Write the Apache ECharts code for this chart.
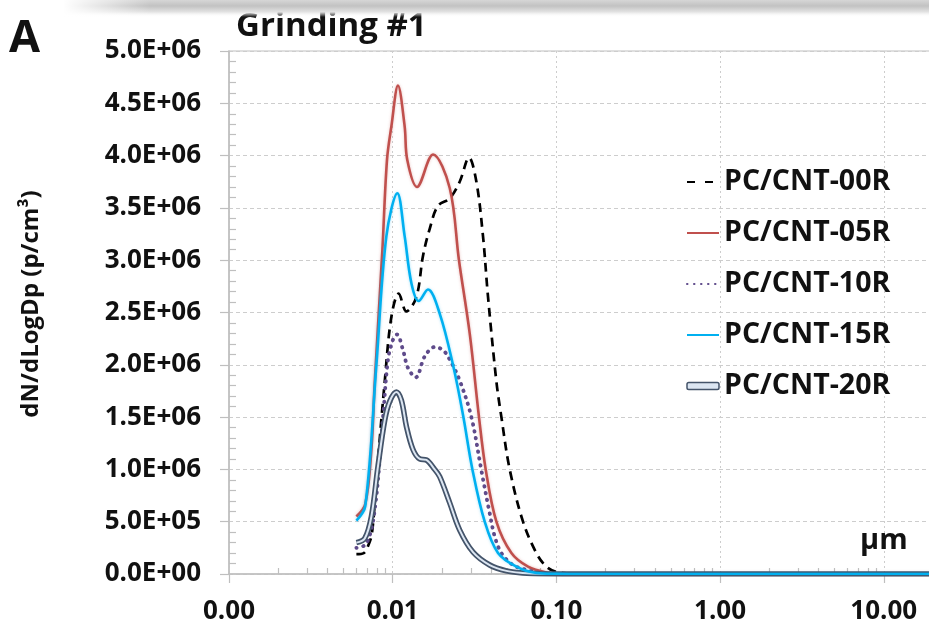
<!DOCTYPE html>
<html><head><meta charset="utf-8">
<script src="https://cdn.jsdelivr.net/npm/echarts@6/dist/echarts.min.js"></script>
<style>html,body{margin:0;padding:0;background:#fff}#c{width:929px;height:627px}</style>
</head><body><div id="c"></div>
<script>
// ---- data (particle diameter in µm, dN/dLogDp in p/cm3) ----
const seriesNames = ['PC/CNT-00R', 'PC/CNT-05R', 'PC/CNT-10R', 'PC/CNT-15R', 'PC/CNT-20R'];
const xTickLabels = ['0.00', '0.01', '0.10', '1.00', '10.00'];
const yTickLabels = ['0.0E+00', '5.0E+05', '1.0E+06', '1.5E+06', '2.0E+06', '2.5E+06',
                     '3.0E+06', '3.5E+06', '4.0E+06', '4.5E+06', '5.0E+06'];

const data00R = [
  [0.0060, 0.19e6], [0.00665, 0.20e6], [0.00704, 0.26e6], [0.00747, 0.39e6], [0.00799, 0.95e6],
  [0.00894, 1.84e6], [0.00982, 2.46e6], [0.01088, 2.68e6], [0.01213, 2.51e6], [0.01396, 2.65e6],
  [0.01531, 3.04e6], [0.01683, 3.30e6], [0.01891, 3.52e6], [0.0223, 3.59e6], [0.02566, 3.75e6],
  [0.02925, 3.98e6], [0.03245, 3.75e6], [0.03561, 3.23e6], [0.03822, 2.65e6], [0.0430, 1.84e6],
  [0.04613, 1.50e6], [0.05185, 1.00e6], [0.06252, 0.50e6], [0.07546, 0.20e6], [0.08688, 0.07e6],
  [0.1, 0.02e6], [0.12, 0.005e6], [0.15, 0], [0.2, 0], [0.3, 0], [0.5, 0], [1, 0], [2, 0],
  [5, 0], [10, 0], [20, 0]
];
const data05R = [
  [0.0060, 0.55e6], [0.0068, 0.67e6], [0.00741, 1.19e6], [0.00776, 1.82e6], [0.00865, 3.10e6],
  [0.00923, 3.96e6], [0.00982, 4.28e6], [0.01077, 4.67e6], [0.01183, 4.28e6], [0.01227, 3.96e6],
  [0.01407, 3.70e6], [0.01763, 4.01e6], [0.0223, 3.69e6], [0.0254, 3.00e6], [0.02954, 2.30e6],
  [0.03366, 1.50e6], [0.03699, 1.00e6], [0.0430, 0.50e6], [0.05311, 0.20e6], [0.06706, 0.07e6],
  [0.08688, 0.015e6], [0.11, 0.003e6], [0.15, 0], [0.2, 0], [0.3, 0], [0.5, 0], [1, 0], [2, 0],
  [5, 0], [10, 0], [20, 0]
];
const data10R = [
  [0.0060, 0.25e6], [0.00691, 0.29e6], [0.00776, 0.61e6], [0.00873, 1.50e6], [0.00936, 2.05e6],
  [0.01004, 2.24e6], [0.01062, 2.29e6], [0.01156, 2.14e6], [0.0124, 1.97e6], [0.01382, 1.88e6],
  [0.01569, 2.08e6], [0.01805, 2.17e6], [0.0203, 2.14e6], [0.02229, 2.05e6], [0.02566, 1.85e6],
  [0.03025, 1.50e6], [0.03482, 0.99e6], [0.03913, 0.58e6], [0.04198, 0.36e6], [0.04613, 0.20e6],
  [0.05431, 0.086e6], [0.06556, 0.04e6], [0.07907, 0.01e6], [0.1, 0.002e6], [0.15, 0], [0.2, 0],
  [0.3, 0], [0.5, 0], [1, 0], [2, 0], [5, 0], [10, 0], [20, 0]
];
const data15R = [
  [0.0060, 0.51e6], [0.0068, 0.65e6], [0.00795, 2.00e6], [0.00915, 3.23e6], [0.01068, 3.64e6],
  [0.01183, 3.23e6], [0.01301, 2.78e6], [0.01441, 2.61e6], [0.01642, 2.72e6], [0.01937, 2.49e6],
  [0.02335, 2.00e6], [0.02689, 1.52e6], [0.03068, 1.00e6], [0.03648, 0.50e6], [0.04398, 0.20e6],
  [0.05695, 0.07e6], [0.07546, 0.01e6], [0.1, 0.002e6], [0.15, 0], [0.2, 0], [0.3, 0], [0.5, 0],
  [1, 0], [2, 0], [5, 0], [10, 0], [20, 0]
];
const data20R = [
  [0.0060, 0.30e6], [0.00675, 0.34e6], [0.00741, 0.55e6], [0.00813, 1.03e6], [0.00894, 1.47e6],
  [0.00959, 1.65e6], [0.01053, 1.74e6], [0.0113, 1.66e6], [0.01213, 1.41e6], [0.0133, 1.19e6],
  [0.01462, 1.10e6], [0.01606, 1.09e6], [0.01805, 1.00e6], [0.01937, 0.93e6], [0.0223, 0.68e6],
  [0.02566, 0.42e6], [0.03094, 0.21e6], [0.03913, 0.086e6], [0.0495, 0.03e6], [0.06224, 0.01e6],
  [0.08, 0.002e6], [0.15, 0], [0.2, 0], [0.3, 0], [0.5, 0], [1, 0], [2, 0], [5, 0], [10, 0], [20, 0]
];

// ---- chart ----
const FONT = '"Open Sans", "Liberation Sans", sans-serif';
const chart = echarts.init(document.getElementById('c'), null, { renderer: 'canvas' });

const axisGrey = '#bfbfbf';
const gridGrey = '#cdcdcd';

const baseX = { type: 'log', logBase: 10, min: 0.001, max: 100, gridIndex: 0, position: 'bottom' };
const baseY = { type: 'value', min: 0, max: 5e6, interval: 5e5, gridIndex: 0, position: 'left' };

const option = {
  animation: false,
  backgroundColor: '#ffffff',
  title: {
    text: 'Grinding #1', left: 231, top: 5,
    textStyle: { fontFamily: FONT, fontSize: 33, fontWeight: 'bold', color: '#111' }
  },
  grid: { left: 229, top: 51, width: 818.5, height: 523, outerBoundsMode: 'none', containLabel: false,
          show: true, borderColor: axisGrey, borderWidth: 1.2, backgroundColor: 'transparent' },
  legend: {
    orient: 'vertical', left: 681, top: 162, itemWidth: 32, itemHeight: 7, itemGap: 21,
    padding: 5,
    itemStyle: { opacity: 0 },
    textStyle: { fontFamily: FONT, fontSize: 28.5, fontWeight: 'bold', color: '#111', lineHeight: 30 },
    data: [
      { name: seriesNames[0], lineStyle: { type: [8, 10] } },
      { name: seriesNames[1] },
      { name: seriesNames[2] },
      { name: seriesNames[3] },
      { name: seriesNames[4], icon: 'roundRect', itemStyle: { color: '#dce6f2', borderColor: '#44546a', borderWidth: 1.5, opacity: 1 } }
    ]
  },
  xAxis: [
    Object.assign({}, baseX, {
      axisLine: { show: true, lineStyle: { color: axisGrey, width: 1.5 } },
      axisTick: { show: true, inside: false, length: 9, lineStyle: { color: axisGrey, width: 1.2 } },
      axisLabel: {
        show: true, margin: 25, fontFamily: FONT, fontSize: 26, fontWeight: 'bold', color: '#111',
        formatter: function (v) { const i = Math.round(Math.log10(v)) + 3; return xTickLabels[i] || ''; }
      },
      splitLine: { show: true, lineStyle: { color: gridGrey, type: [2, 3], width: 1 } },
      minorTick: { show: false }
    }),
    Object.assign({}, baseX, {
      axisLine: { show: false },
      axisTick: { show: false, inside: true },
      axisLabel: { show: false },
      splitLine: { show: false },
      minorTick: { show: true, splitNumber: 9, length: 6, lineStyle: { color: axisGrey, width: 1.2 } }
    })
  ],
  yAxis: [
    Object.assign({}, baseY, {
      axisLine: { show: true, lineStyle: { color: axisGrey, width: 1.5 } },
      axisTick: { show: true, inside: false, length: 9, lineStyle: { color: axisGrey, width: 1.2 } },
      axisLabel: {
        show: true, margin: 28, fontFamily: FONT, fontSize: 26, fontWeight: 'bold', color: '#111',
        formatter: function (v) { return yTickLabels[Math.round(v / 5e5)] || ''; }
      },
      splitLine: { show: true, lineStyle: { color: gridGrey, type: [4, 3], width: 1 } }
    }),
    Object.assign({}, baseY, {
      axisLine: { show: false },
      axisTick: { show: false, inside: true },
      axisLabel: { show: false },
      splitLine: { show: false },
      minorTick: { show: true, splitNumber: 5, length: 7, lineStyle: { color: axisGrey, width: 1.2 } }
    })
  ],
  graphic: [
    { type: 'rect', silent: true, z: 100, shape: { x: 0, y: 0, width: 929, height: 17 },
      style: { fill: new echarts.graphic.LinearGradient(0, 0, 0, 1, [
        { offset: 0, color: '#d6d6d6' }, { offset: 0.35, color: '#c2c2c2' }, { offset: 0.7, color: '#e2e2e2' }, { offset: 1, color: 'rgba(255,255,255,0)' }]) } },
    { type: 'rect', silent: true, z: 101, shape: { x: 0, y: 0, width: 150, height: 18 },
      style: { fill: new echarts.graphic.LinearGradient(0, 0, 1, 0, [
        { offset: 0, color: '#ffffff' }, { offset: 0.42, color: '#ffffff' }, { offset: 1, color: 'rgba(255,255,255,0)' }]) } },
    { type: 'text', x: 9, y: 17, z: 100, style: { text: 'A', font: 'bold 45px ' + FONT, fill: '#111' } },
    { type: 'text', x: 31, y: 304, rotation: Math.PI / 2, z: 100,
      style: { text: 'dN/dLogDp (p/cm³)', font: 'bold 24px ' + FONT, fill: '#111', textAlign: 'center', textVerticalAlign: 'middle' } },
    { type: 'text', x: 860, y: 526, z: 100, style: { text: 'µm', font: 'bold 29px ' + FONT, fill: '#111' } }
  ],
  series: [
    { name: seriesNames[0], type: 'line', data: data00R, symbol: 'none', smooth: 0.35, z: 3,
      lineStyle: { color: '#000', width: 2.7, type: [9, 6] }, itemStyle: { color: '#000' } },
    { name: seriesNames[1], type: 'line', data: data05R, symbol: 'none', smooth: 0.35, z: 4,
      lineStyle: { color: '#c0504d', width: 2.6, shadowBlur: 3, shadowColor: 'rgba(192,80,77,0.35)' }, itemStyle: { color: '#c0504d' } },
    { name: seriesNames[2], type: 'line', data: data10R, symbol: 'none', smooth: 0.35, z: 5,
      lineStyle: { color: '#5f4b8b', width: 3.8, type: [0.5, 6.5], cap: 'round' }, itemStyle: { color: '#5f4b8b' } },
    { name: seriesNames[4], type: 'line', data: data20R, symbol: 'none', smooth: 0.35, z: 6,
      lineStyle: { color: '#44546a', width: 5.5 }, itemStyle: { color: '#44546a' } },
    { name: seriesNames[4] + ' ', type: 'line', data: data20R, symbol: 'none', smooth: 0.35, z: 7,
      lineStyle: { color: '#dce6f2', width: 2 }, itemStyle: { color: '#dce6f2' } },
    { name: seriesNames[3], type: 'line', data: data15R, symbol: 'none', smooth: 0.35, z: 8,
      lineStyle: { color: '#00b0f0', width: 2.6, shadowBlur: 3, shadowColor: 'rgba(0,176,240,0.35)' }, itemStyle: { color: '#00b0f0' } }
  ]
};
chart.setOption(option);
</script>
</body></html>
